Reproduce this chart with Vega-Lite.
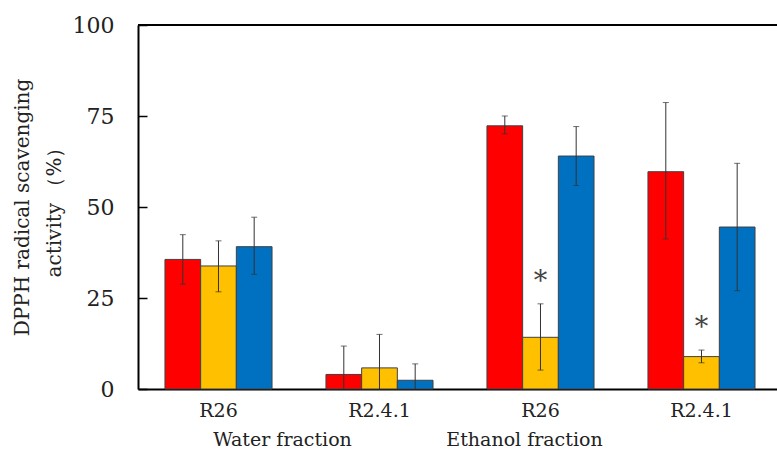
{
  "$schema": "https://vega.github.io/schema/vega-lite/v6.json",
  "width": 639,
  "height": 364,
  "autosize": {"type": "none"},
  "padding": {"left": 138, "top": 25, "right": 0, "bottom": 64},
  "config": {"view": {"stroke": null}, "font": "DejaVu Serif"},
  "datasets": {
    "bars": [
      {"group": "Water|R26", "series": "S1", "value": 35.6, "lo": 28.8, "hi": 42.4},
      {"group": "Water|R26", "series": "S2", "value": 33.8, "lo": 26.7, "hi": 40.7},
      {"group": "Water|R26", "series": "S3", "value": 39.1, "lo": 31.5, "hi": 47.2},
      {"group": "Water|R2.4.1", "series": "S1", "value": 4.0, "lo": 0, "hi": 11.8},
      {"group": "Water|R2.4.1", "series": "S2", "value": 5.8, "lo": 0, "hi": 15.0},
      {"group": "Water|R2.4.1", "series": "S3", "value": 2.4, "lo": 0, "hi": 6.9},
      {"group": "Ethanol|R26", "series": "S1", "value": 72.3, "lo": 70.1, "hi": 75.0},
      {"group": "Ethanol|R26", "series": "S2", "value": 14.2, "lo": 5.2, "hi": 23.4, "sig": "*"},
      {"group": "Ethanol|R26", "series": "S3", "value": 64.0, "lo": 55.9, "hi": 72.1},
      {"group": "Ethanol|R2.4.1", "series": "S1", "value": 59.7, "lo": 41.2, "hi": 78.7},
      {"group": "Ethanol|R2.4.1", "series": "S2", "value": 8.9, "lo": 7.2, "hi": 10.7, "sig": "*"},
      {"group": "Ethanol|R2.4.1", "series": "S3", "value": 44.5, "lo": 27.0, "hi": 62.0}
    ]
  },
  "layer": [
    {
      "data": {"name": "bars"},
      "mark": {"type": "bar", "stroke": "#404040", "strokeWidth": 1},
      "encoding": {
        "x": {
          "field": "group",
          "type": "nominal",
          "scale": {
            "domain": ["Water|R26", "Water|R2.4.1", "Ethanol|R26", "Ethanol|R2.4.1"],
            "paddingInner": 0.335,
            "paddingOuter": 0.152,
            "align": 0.551
          },
          "axis": {
            "title": null,
            "labelExpr": "split(datum.value, '|')[1]",
            "labelAngle": 0,
            "labelFont": "DejaVu Serif",
            "labelFontSize": 19,
            "labelColor": "#222",
            "labelPadding": 12,
            "ticks": false,
            "domainColor": "#000",
            "domainWidth": 2
          }
        },
        "xOffset": {"field": "series", "type": "nominal", "scale": {"paddingInner": 0, "paddingOuter": 0}},
        "y": {
          "field": "value",
          "type": "quantitative",
          "scale": {"domain": [0, 100], "nice": false},
          "axis": {
            "values": [0, 25, 50, 75, 100],
            "grid": false,
            "tickSize": -9,
            "tickColor": "#000",
            "tickWidth": 1.5,
            "domainColor": "#000",
            "domainWidth": 2,
            "labelFont": "DejaVu Serif",
            "labelFontSize": 22,
            "labelColor": "#222",
            "labelPadding": 33,
            "title": ["DPPH radical scavenging", "activity （%）"],
            "titleFont": "DejaVu Serif",
            "titleFontSize": 20,
            "titleFontWeight": "normal",
            "titleColor": "#222",
            "titlePadding": 8,
            "titleLineHeight": 32
          }
        },
        "color": {
          "field": "series",
          "type": "nominal",
          "scale": {"domain": ["S1", "S2", "S3"], "range": ["#FF0000", "#FFC000", "#0070C0"]},
          "legend": null
        }
      }
    },
    {
      "data": {"name": "bars"},
      "mark": {"type": "rule", "color": "#333", "strokeWidth": 1},
      "encoding": {
        "x": {"field": "group", "type": "nominal"},
        "xOffset": {"field": "series", "type": "nominal"},
        "y": {"field": "lo", "type": "quantitative"},
        "y2": {"field": "hi"}
      }
    },
    {
      "data": {"name": "bars"},
      "mark": {"type": "tick", "color": "#333", "size": 6, "thickness": 1},
      "encoding": {
        "x": {"field": "group", "type": "nominal"},
        "xOffset": {"field": "series", "type": "nominal"},
        "y": {"field": "hi", "type": "quantitative"}
      }
    },
    {
      "data": {"name": "bars"},
      "transform": [{"filter": "datum.lo > 0"}],
      "mark": {"type": "tick", "color": "#333", "size": 6, "thickness": 1},
      "encoding": {
        "x": {"field": "group", "type": "nominal"},
        "xOffset": {"field": "series", "type": "nominal"},
        "y": {"field": "lo", "type": "quantitative"}
      }
    },
    {
      "data": {"name": "bars"},
      "transform": [{"filter": "datum.sig == '*'"}],
      "mark": {"type": "text", "font": "DejaVu Serif", "fontSize": 27, "color": "#444", "baseline": "middle", "dy": -22},
      "encoding": {
        "x": {"field": "group", "type": "nominal"},
        "xOffset": {"field": "series", "type": "nominal"},
        "y": {"field": "hi", "type": "quantitative"},
        "text": {"field": "sig"}
      }
    },
    {
      "data": {"values": [{"v": 100}]},
      "mark": {"type": "rule", "color": "#000", "strokeWidth": 2},
      "encoding": {"y": {"field": "v", "type": "quantitative"}}
    },
    {
      "data": {"values": [{"group": "Water|R2.4.1", "label": "Water fraction"}]},
      "mark": {"type": "text", "font": "DejaVu Serif", "fontSize": 19, "color": "#222", "baseline": "middle", "dx": -97, "dy": 51},
      "encoding": {
        "x": {"field": "group", "type": "nominal"},
        "y": {"datum": 0},
        "text": {"field": "label"}
      }
    },
    {
      "data": {"values": [{"group": "Ethanol|R2.4.1", "label": "Ethanol fraction"}]},
      "mark": {"type": "text", "font": "DejaVu Serif", "fontSize": 19, "color": "#222", "baseline": "middle", "dx": -177, "dy": 51},
      "encoding": {
        "x": {"field": "group", "type": "nominal"},
        "y": {"datum": 0},
        "text": {"field": "label"}
      }
    }
  ]
}
